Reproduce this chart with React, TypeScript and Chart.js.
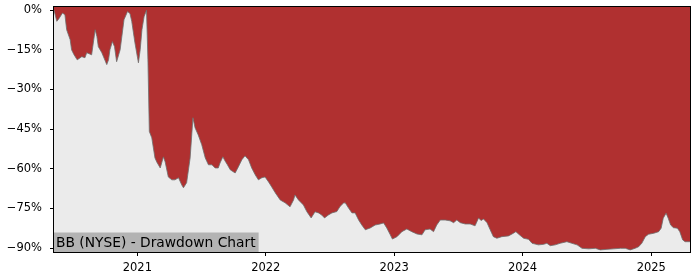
import React, { useEffect, useRef } from "react";
import { Chart, registerables } from "chart.js";

Chart.register(...registerables);

const TITLE = "BB (NYSE) - Drawdown Chart";

const dates: string[] = [
  "2020-05-09","2020-05-17","2020-05-23","2020-06-02","2020-06-09","2020-06-14","2020-06-24","2020-06-28",
  "2020-07-05","2020-07-14","2020-07-27","2020-08-05","2020-08-10","2020-08-24","2020-09-03","2020-09-08",
  "2020-09-12","2020-09-22","2020-10-06","2020-10-11","2020-10-15","2020-10-22","2020-10-28","2020-11-03",
  "2020-11-13","2020-11-24","2020-12-04","2020-12-11","2020-12-16","2020-12-25","2021-01-04","2021-01-09",
  "2021-01-14","2021-01-20","2021-01-27","2021-01-31","2021-02-04","2021-02-11","2021-02-20","2021-02-25",
  "2021-03-07","2021-03-16","2021-03-21","2021-03-30","2021-04-09","2021-04-18","2021-04-28","2021-05-07",
  "2021-05-12","2021-05-21","2021-05-31","2021-06-08","2021-06-14","2021-06-23","2021-07-03","2021-07-13",
  "2021-07-22","2021-08-01","2021-08-10","2021-08-19","2021-08-24","2021-09-01","2021-09-07","2021-09-14",
  "2021-09-22","2021-10-06","2021-10-15","2021-10-25","2021-11-03","2021-11-13","2021-11-22","2021-12-02",
  "2021-12-11","2021-12-21","2021-12-30","2022-01-09","2022-01-18","2022-01-28","2022-02-11","2022-02-25",
  "2022-03-11","2022-03-21","2022-03-25","2022-04-04","2022-04-18","2022-04-28","2022-05-10","2022-05-21",
  "2022-05-31","2022-06-09","2022-06-17","2022-06-28","2022-07-08","2022-07-22","2022-07-31","2022-08-10",
  "2022-08-15","2022-08-24","2022-09-03","2022-09-12","2022-09-22","2022-10-01","2022-10-11","2022-10-25",
  "2022-11-08","2022-11-22","2022-12-02","2022-12-11","2022-12-21","2022-12-27","2023-01-09","2023-01-23",
  "2023-02-06","2023-02-20","2023-03-07","2023-03-21","2023-03-30","2023-04-13","2023-04-23","2023-05-02",
  "2023-05-12","2023-05-26","2023-06-09","2023-06-19","2023-06-28","2023-07-08","2023-07-22","2023-08-05",
  "2023-08-19","2023-08-29","2023-09-05","2023-09-12","2023-09-22","2023-10-01","2023-10-10","2023-10-20",
  "2023-11-03","2023-11-22","2023-12-06","2023-12-13","2023-12-23","2024-01-04","2024-01-18","2024-01-28",
  "2024-02-15","2024-03-01","2024-03-10","2024-03-20","2024-04-03","2024-04-17","2024-05-06","2024-05-20",
  "2024-06-04","2024-06-18","2024-07-07","2024-07-26","2024-08-09","2024-08-28","2024-09-16","2024-10-05",
  "2024-10-19","2024-11-02","2024-11-16","2024-11-26","2024-12-05","2024-12-15","2024-12-24","2025-01-08",
  "2025-01-22","2025-01-29","2025-02-04","2025-02-12","2025-02-18","2025-02-25","2025-03-05","2025-03-16",
  "2025-03-23","2025-03-31","2025-04-07","2025-04-21"
];

const drawdown: number[] = [
  0, -4.2, -3.2, -1.1, -1.7, -7.4, -11.2, -15,
  -16.9, -18.8, -17.6, -18, -16.1, -16.9, -7.4, -10,
  -13.8, -16.1, -20.6, -18.8, -15, -11.9, -13.8, -19.5,
  -15, -3.6, -0.5, -1.3, -4.2, -12.3, -19.9, -15,
  -7.4, -2.5, 0, -18.8, -45.9, -48.3, -55.9, -57.4,
  -59.7, -55.5, -57.4, -63.1, -64.2, -64.2, -63.4, -66.1,
  -67.2, -65.3, -55.9, -40.7, -44.5, -47.2, -50.9, -55.9,
  -58.5, -58.5, -59.7, -59.7, -57.8, -55.5, -57, -58.5,
  -60.4, -61.6, -59.3, -56.6, -55.1, -56.6, -59.7, -62.3,
  -64.2, -63.4, -63.1, -65, -66.9, -69.1, -71.8, -72.9,
  -74.4, -71.8, -69.9, -71.8, -73.7, -76.3, -78.6, -76.3,
  -76.7, -77.5, -78.6, -77.5, -76.7, -76.2, -74.3, -73,
  -72.9, -74.8, -76.7, -76.7, -79.4, -81.3, -83.1, -82.4,
  -81.3, -80.9, -80.5, -82.4, -85, -86.6, -85.7, -83.8,
  -82.8, -83.8, -84.7, -85, -83.1, -82.8, -83.8, -81.3,
  -79.4, -79.4, -79.7, -80.4, -79.4, -80.4, -80.9, -80.9,
  -81.6, -78.6, -79.6, -79, -80.4, -83.1, -85.7, -86.3,
  -85.7, -85.4, -84.4, -83.8, -85, -86.3, -86.7, -88.2,
  -88.8, -88.6, -88.2, -89.1, -88.8, -88.2, -87.6, -88.2,
  -88.8, -90.1, -90.3, -90.1, -90.7, -90.5, -90.3, -90.1,
  -90.1, -90.7, -90.1, -89.5, -88.2, -85.7, -84.8, -84.4,
  -83.8, -82.5, -78.7, -76.8, -78.7, -81.3, -82.3, -82.5,
  -83.8, -86.9, -87.6, -87.6
];

const yTicks: number[] = [0, -15, -30, -45, -60, -75, -90];
const xTickYears: number[] = [2021, 2022, 2023, 2024, 2025];

const toMs = (s: string) => Date.parse(s + "T00:00:00Z");

export default function App() {
  const ref = useRef<HTMLCanvasElement | null>(null);

  useEffect(() => {
    if (!ref.current) return;
    const points = dates.map((d, i) => ({ x: toMs(d), y: drawdown[i] }));
    const font = { family: "DejaVu Sans", size: 11.5 };

    const framePlugin = {
      id: "frame",
      beforeDatasetsDraw(chart: any) {
        const { ctx, chartArea: a } = chart;
        ctx.save();
        ctx.fillStyle = "#ebebeb";
        ctx.fillRect(a.left, a.top, a.right - a.left, a.bottom - a.top);
        ctx.restore();
      },
      afterDraw(chart: any) {
        const { ctx, chartArea: a } = chart;
        ctx.save();
        ctx.font = "13.8px 'DejaVu Sans'";
        const w = ctx.measureText(TITLE).width;
        ctx.fillStyle = "#b3b3b3";
        ctx.fillRect(a.left, a.bottom - 19.5, w + 5, 19.5);
        ctx.fillStyle = "#000";
        ctx.textBaseline = "alphabetic";
        ctx.fillText(TITLE, a.left + 2, a.bottom - 5.3);
        ctx.strokeStyle = "#000";
        ctx.lineWidth = 1;
        ctx.strokeRect(Math.round(a.left) - 0.5, Math.round(a.top) - 0.5, Math.round(a.right - a.left) + 1, Math.round(a.bottom - a.top) + 1);
        ctx.restore();
      },
    };

    const chart = new Chart(ref.current, {
      type: "line",
      data: {
        datasets: [
          {
            data: points,
            fill: "end",
            backgroundColor: "#b03030",
            borderColor: "rgba(110,110,110,0.8)",
            borderWidth: 1,
            pointRadius: 0,
            tension: 0,
          },
        ],
      },
      options: {
        animation: false,
        responsive: false,
        events: [],
        layout: { padding: { top: 0, right: 10, left: 0, bottom: 0 } },
        plugins: { legend: { display: false }, tooltip: { enabled: false } },
        scales: {
          x: {
            type: "linear",
            min: toMs(dates[0]),
            max: toMs(dates[dates.length - 1]),
            border: { display: false },
            grid: { drawOnChartArea: false, drawTicks: true, tickLength: 4, color: "#000" },
            afterBuildTicks: (scale: any) => {
              scale.ticks = xTickYears.map((y) => ({ value: Date.UTC(y, 0, 1) }));
            },
            afterFit: (scale: any) => {
              scale.height = 28;
            },
            ticks: {
              font,
              color: "#000",
              padding: 5,
              maxRotation: 0,
              autoSkip: false,
              callback: (v: any) => String(new Date(v).getUTCFullYear()),
            },
          },
          y: {
            min: -91.5,
            max: 1.2,
            border: { display: false },
            grid: { drawOnChartArea: false, drawTicks: true, tickLength: 4, color: "#000" },
            afterBuildTicks: (scale: any) => {
              scale.ticks = yTicks.map((v) => ({ value: v }));
            },
            afterFit: (scale: any) => {
              scale.width = 54;
              scale.paddingTop = 7;
            },
            ticks: {
              font,
              color: "#000",
              padding: 8,
              autoSkip: false,
              callback: (v: any) => (v < 0 ? "\u2212" + Math.abs(v) : String(v)) + "%",
            },
          },
        },
      },
      plugins: [framePlugin],
    } as any);

    return () => chart.destroy();
  }, []);

  return (
    <div style={{ position: "fixed", left: 0, top: 0, width: 700, height: 280, background: "#fff" }}>
      <canvas ref={ref} width={700} height={280} style={{ display: "block" }} />
    </div>
  );
}
